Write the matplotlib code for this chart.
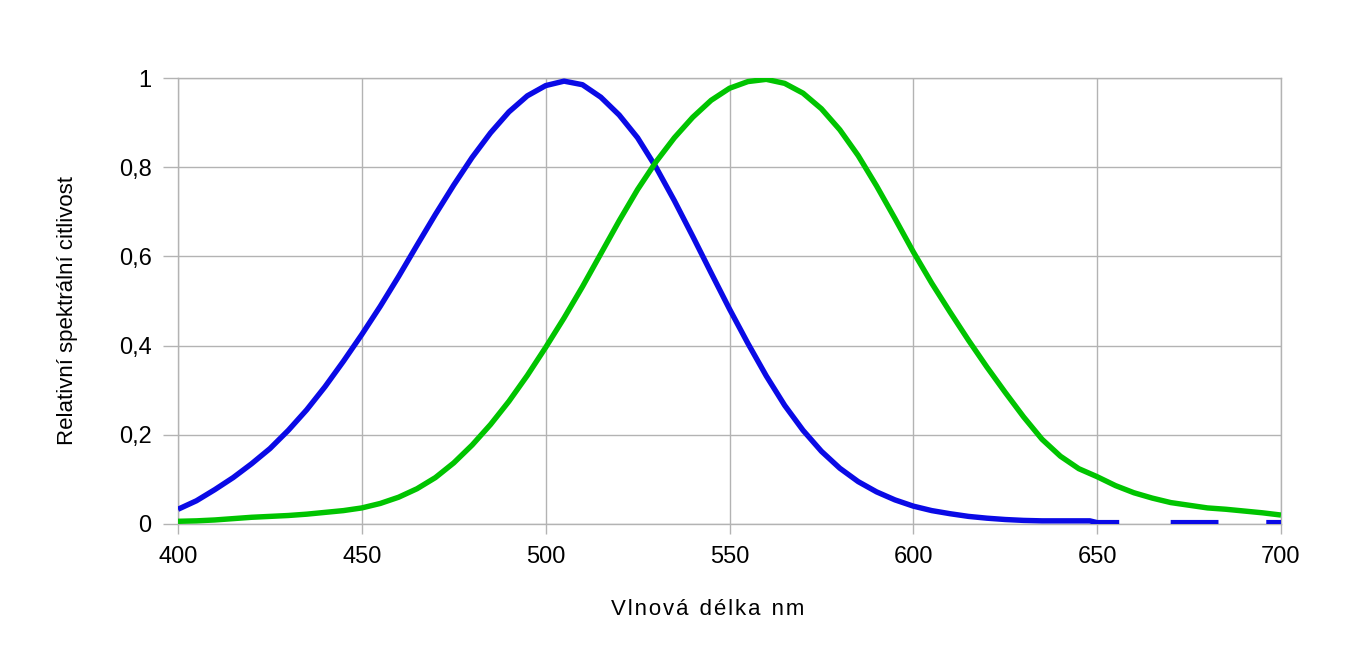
import numpy as np
import matplotlib
matplotlib.use('Agg')
import matplotlib.pyplot as plt
from matplotlib.ticker import FuncFormatter

plt.rcParams['font.family'] = ['Liberation Sans', 'DejaVu Sans']

# skotopické vidění (modrá)
wl_blue = [400, 405, 410, 415, 420, 425, 430, 435, 440, 445,
           450, 455, 460, 465, 470, 475, 480, 485, 490, 495,
           500, 505, 510, 515, 520, 525, 530, 535, 540, 545,
           550, 555, 560, 565, 570, 575, 580, 585, 590, 595,
           600, 605, 610, 615, 620, 625, 630, 635, 640, 645,
           648, 650, 656, 663, 670, 683, 690, 696, 700]
v_blue = [0.033, 0.052, 0.077, 0.104, 0.135, 0.169, 0.210, 0.256, 0.308, 0.365,
          0.425, 0.488, 0.555, 0.625, 0.694, 0.760, 0.822, 0.877, 0.924, 0.960,
          0.983, 0.993, 0.985, 0.957, 0.917, 0.866, 0.800, 0.725, 0.645, 0.563,
          0.482, 0.405, 0.332, 0.266, 0.210, 0.163, 0.125, 0.095, 0.072, 0.054,
          0.040, 0.030, 0.023, 0.017, 0.013, 0.010, 0.008, 0.007, 0.007, 0.007,
          0.007, 0.003, 0.003, np.nan, 0.003, 0.003, np.nan, 0.003, 0.003]

# fotopické vidění (zelená)
wl_green = list(range(400, 701, 5))
v_green = [0.006, 0.007, 0.009, 0.012, 0.015, 0.017, 0.019, 0.022, 0.026, 0.030,
           0.036, 0.046, 0.060, 0.079, 0.104, 0.137, 0.177, 0.223, 0.275, 0.333,
           0.396, 0.462, 0.532, 0.606, 0.680, 0.750, 0.812, 0.866, 0.912, 0.950,
           0.977, 0.992, 0.997, 0.988, 0.966, 0.931, 0.884, 0.826, 0.758, 0.685,
           0.610, 0.540, 0.475, 0.412, 0.352, 0.295, 0.240, 0.190, 0.152, 0.124,
           0.106, 0.086, 0.070, 0.058, 0.048, 0.042, 0.036, 0.033, 0.029, 0.025,
           0.020]

fig = plt.figure(figsize=(13.6, 6.6), dpi=100)
ax = fig.add_axes([0.1309, 0.2061, 0.8110, 0.6757])

ax.plot(wl_blue, v_blue, color='#0a0ae6', lw=3.9, solid_capstyle='butt', zorder=3)
ax.plot(wl_green, v_green, color='#00c400', lw=3.9, solid_capstyle='butt', zorder=3)

ax.set_xlim(400, 700)
ax.set_ylim(0, 1)
ax.set_xticks(np.arange(400, 701, 50))
ax.set_yticks([0, 0.2, 0.4, 0.6, 0.8, 1])
ax.yaxis.set_major_formatter(FuncFormatter(lambda v, p: ('%g' % v).replace('.', ',')))

ax.grid(True, color='#b3b3b3', lw=1)
ax.set_axisbelow(True)
for s in ax.spines.values():
    s.set_color('#b3b3b3')
    s.set_linewidth(1)
ax.tick_params(axis='both', colors='#b3b3b3', labelcolor='black', labelsize=17, width=1)
ax.tick_params(axis='y', length=11, pad=8)
ax.tick_params(axis='x', length=7, pad=9)

fig.text(0.52, 0.077, 'V l n o v á   d é l k a   n m'.replace('   ', '\u2002').replace(' ', '\u200a'),
         ha='center', va='center', fontsize=16)
fig.text(0.050, 0.53, 'Relativní spektrální citlivost', rotation=90,
         ha='center', va='center', fontsize=16)

fig.savefig('out.png', dpi=100)
